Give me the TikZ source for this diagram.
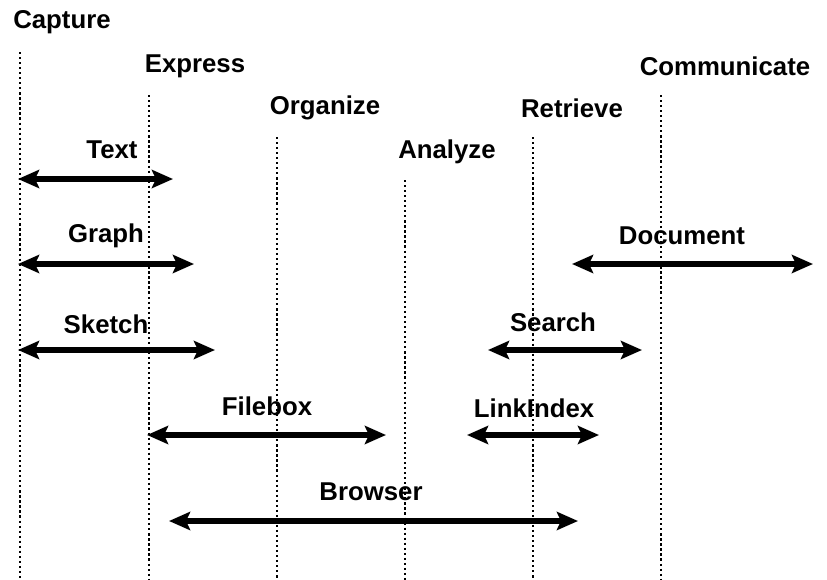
\documentclass[tikz,border=0pt]{standalone}
\usepackage{fontspec}
\setmainfont{Liberation Sans}
\usetikzlibrary{arrows.meta}

\begin{document}
\begin{tikzpicture}[x=0.03cm, y=-0.03cm,
% Node styles
 stage/.style={font=\fontsize{22}{26}\selectfont\bfseries, inner sep=0pt},
 tool/.style={font=\fontsize{22}{26}\selectfont\bfseries, inner sep=0pt},
% Edge styles
 guide/.style={draw, line width=1.9pt, dash pattern=on 1.9pt off 2.4pt},
 span/.style={draw, line width=5pt,
   {Stealth[length=18pt, width=15.5pt, inset=3.5pt]}-{Stealth[length=18pt, width=15.5pt, inset=3.5pt]}}
]
\useasboundingbox (0,0) rectangle (827,580);

% Stages
\node[stage] (capture) at (62,22) {Capture};
\node[stage] (express) at (195,66) {Express};
\node[stage] (organize) at (325,108) {Organize};
\node[stage] (analyze) at (447,152) {Analyze};
\node[stage] (retrieve) at (572,108) {Retrieve};
\node[stage] (communicate) at (725,66) {Communicate};

\coordinate (capture top) at (20,52);
\coordinate (capture end) at (20,580);
\coordinate (express top) at (149,95);
\coordinate (express end) at (149,580);
\coordinate (organize top) at (277,137);
\coordinate (organize end) at (277,580);
\coordinate (analyze top) at (405,180);
\coordinate (analyze end) at (405,580);
\coordinate (retrieve top) at (533,137);
\coordinate (retrieve end) at (533,580);
\coordinate (communicate top) at (661,95);
\coordinate (communicate end) at (661,580);

\draw[guide] (capture top) -- (capture end);
\draw[guide] (express top) -- (express end);
\draw[guide] (organize top) -- (organize end);
\draw[guide] (analyze top) -- (analyze end);
\draw[guide] (retrieve top) -- (retrieve end);
\draw[guide] (communicate top) -- (communicate end);

% Tools
\node[tool] (text) at (112,150) {Text};
\node[tool] (graph) at (106,236) {Graph};
\node[tool] (sketch) at (106,324) {Sketch};
\node[tool] (document) at (682,236) {Document};
\node[tool] (search) at (553,322) {Search};
\node[tool] (filebox) at (267,406) {Filebox};
\node[tool] (linkindex) at (534,408) {LinkIndex};
\node[tool] (browser) at (371,492) {Browser};

\coordinate (text l) at (18,179);
\coordinate (text r) at (173,179);
\coordinate (graph l) at (18,264);
\coordinate (graph r) at (194,264);
\coordinate (sketch l) at (18,350);
\coordinate (sketch r) at (215,350);
\coordinate (document l) at (572,264);
\coordinate (document r) at (813,264);
\coordinate (search l) at (488,350);
\coordinate (search r) at (642,350);
\coordinate (filebox l) at (147,435);
\coordinate (filebox r) at (386,435);
\coordinate (linkindex l) at (467,435);
\coordinate (linkindex r) at (599,435);
\coordinate (browser l) at (169,521);
\coordinate (browser r) at (578,521);

\draw[span] (text l) -- (text r);
\draw[span] (graph l) -- (graph r);
\draw[span] (sketch l) -- (sketch r);
\draw[span] (document l) -- (document r);
\draw[span] (search l) -- (search r);
\draw[span] (filebox l) -- (filebox r);
\draw[span] (linkindex l) -- (linkindex r);
\draw[span] (browser l) -- (browser r);

\end{tikzpicture}
\end{document}
